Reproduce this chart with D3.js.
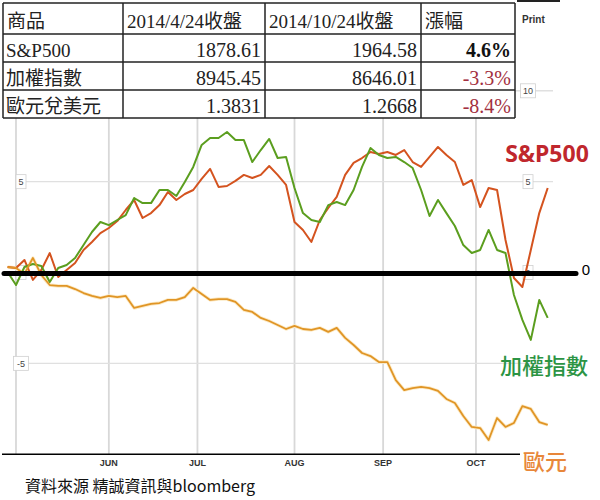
<!DOCTYPE html>
<html><head><meta charset="utf-8">
<script src="https://cdnjs.cloudflare.com/ajax/libs/d3/7.8.5/d3.min.js"></script>
<style>body{margin:0;background:#fff}svg{display:block}</style>
</head><body><div id="chart"></div>
<script>
// ---- data ----
const headers = ["商品", "2014/4/24收盤", "2014/10/24收盤", "漲幅"];
const products = ["S&P500", "加權指數", "歐元兌美元"];
const close0424 = ["1878.61", "8945.45", "1.3831"];
const close1024 = ["1964.58", "8646.01", "1.2668"];
const changes = ["4.6%", "-3.3%", "-8.4%"];
const monthLabels = ["", "JUN", "JUL", "AUG", "SEP", "OCT"];
const yTicksLeft = [5, 0, -5];
const yTicksRight = [10, 5, 0];
const yGrid = [10, 5, 0, -5];
// % change since start, sampled every second trading day (2014-04-29 .. 2014-10-24)
const spx = [0.30,0.25,0.69,-0.41,0.14,1.07,-0.25,0.14,0.52,1.24,1.68,2.17,2.45,2.83,3.44,3.99,3.00,3.27,3.71,4.43,
  3.99,4.32,4.54,5.15,5.70,4.71,4.76,5.04,5.37,5.20,5.37,5.86,5.37,4.82,2.78,2.34,1.68,2.89,3.55,4.16,
  5.37,6.03,6.30,6.63,6.52,6.63,6.47,6.74,6.08,5.81,6.36,6.91,6.47,6.08,4.82,5.09,3.60,4.65,4.54,1.79,
  -0.30,-0.80,1.24,3.27,4.65];
const twii = [0.03,-0.69,0.30,0.47,0.36,-0.52,0.25,0.41,0.80,1.51,2.23,2.78,2.61,2.89,3.16,4.10,3.82,3.82,4.54,4.54,
  4.21,4.98,5.81,7.02,7.40,7.40,7.73,7.29,7.29,6.08,6.74,7.35,6.30,6.36,4.65,3.27,2.89,2.78,3.71,3.88,
  3.71,4.54,5.81,6.85,6.47,6.30,6.36,6.08,5.75,4.54,3.11,3.99,3.27,2.56,1.51,1.07,1.24,2.34,1.24,1.07,
  -1.24,-2.61,-3.71,-1.51,-2.50];
const eur = [0.30,0.25,-0.08,0.80,-0.14,-0.69,-0.74,-0.74,-0.91,-1.13,-1.29,-1.40,-1.29,-1.35,-1.29,-1.95,-1.84,-1.73,-1.68,-1.51,
  -1.51,-1.35,-0.85,-1.18,-1.51,-1.46,-1.46,-1.62,-2.06,-2.17,-2.50,-2.67,-2.89,-3.11,-2.94,-3.11,-3.16,-3.05,-3.27,-3.05,
  -3.60,-3.99,-4.43,-4.60,-4.93,-4.93,-5.92,-6.47,-6.36,-6.30,-6.36,-6.52,-6.96,-7.18,-7.90,-8.50,-8.56,-9.22,-8.01,-8.50,
  -8.28,-7.35,-7.51,-8.23,-8.39];

// ---- trading-day axis ----
const allDays = d3.timeDay.range(new Date(2014, 3, 29), new Date(2014, 9, 25))
  .filter(d => d.getDay() !== 0 && d.getDay() !== 6);
const sampleIdx = allDays.map((d, i) => i).filter(i => i % 2 === 0);

const W = 600, H = 500;
const svg = d3.select("#chart").append("svg").attr("width", W).attr("height", H)
  .style("font-family", "Arial, 'Liberation Sans', sans-serif");
svg.append("rect").attr("width", W).attr("height", H).attr("fill", "#fff");

const x = d3.scaleLinear().domain([0, allDays.length - 1]).range([7.56, 547.7]);
const y = d3.scaleLinear().domain([-10, 10]).range([454.2, 90.8]);
const plotL = 16, plotR = 553;

// month gridlines
const monthStarts = [];
allDays.forEach((d, i) => {
  if (i > 0 && d.getMonth() !== allDays[i - 1].getMonth()) monthStarts.push(i);
});
svg.append("g").selectAll("line").data(monthStarts).join("line")
  .attr("x1", d => x(d)).attr("x2", d => x(d))
  .attr("y1", 60).attr("y2", y(-10))
  .attr("stroke", "#d8d8d8").attr("stroke-width", 1.8);
svg.append("g").selectAll("line").data(yGrid).join("line")
  .attr("x1", plotL).attr("x2", plotR)
  .attr("y1", d => y(d)).attr("y2", d => y(d))
  .attr("stroke", "#e0e0e0").attr("stroke-width", 1.4);

// y labels (boxed)
function yLabel(g, v, cx) {
  const t = String(v);
  const w = t.length * 5 + 5;
  g.append("rect").attr("x", cx - w / 2).attr("y", y(v) - 7).attr("width", w).attr("height", 14)
    .attr("fill", "#fff").attr("stroke", "#d0d0d0").attr("stroke-width", 0.8);
  g.append("text").attr("x", cx).attr("y", y(v) + 3.5).attr("text-anchor", "middle")
    .attr("font-size", 9).attr("fill", "#444").text(t);
}
const yl = svg.append("g");
yTicksLeft.forEach(v => yLabel(yl, v, 21));
yTicksRight.forEach(v => yLabel(yl, v, 528));

// lines
const line = d3.line().x(d => x(d.i)).y(d => y(d.v));
function series(vals) { return vals.map((v, k) => ({ i: sampleIdx[k], v })); }
svg.append("path").datum(series(eur)).attr("d", line).attr("fill", "none")
  .attr("stroke", "#fcebc8").attr("stroke-width", 3.5).attr("stroke-linejoin", "round");
svg.append("path").datum(series(spx)).attr("d", line).attr("fill", "none")
  .attr("stroke", "#d4531f").attr("stroke-width", 2).attr("stroke-linejoin", "round");
svg.append("path").datum(series(twii)).attr("d", line).attr("fill", "none")
  .attr("stroke", "#5b9e1f").attr("stroke-width", 2).attr("stroke-linejoin", "round");
svg.append("path").datum(series(eur)).attr("d", line).attr("fill", "none")
  .attr("stroke", "#e09526").attr("stroke-width", 1.8).attr("stroke-linejoin", "round");

// thick zero line
svg.append("line").attr("x1", 4).attr("x2", 576).attr("y1", y(0) + 1).attr("y2", y(0) + 1)
  .attr("stroke", "#000").attr("stroke-width", 5).attr("stroke-linecap", "round");
svg.append("text").attr("x", 586).attr("y", y(0) + 2).attr("text-anchor", "middle")
  .attr("font-size", 15).attr("fill", "#000").text("0");

// x axis
svg.append("line").attr("x1", 2).attr("x2", 520).attr("y1", y(-10)).attr("y2", y(-10))
  .attr("stroke", "#000").attr("stroke-width", 1.5);
svg.append("g").selectAll("text").data(monthStarts).join("text")
  .attr("x", d => x(d)).attr("y", 466).attr("text-anchor", "middle")
  .attr("font-size", 9).attr("font-weight", "bold").attr("fill", "#333")
  .text((d, i) => monthLabels[i]);

// series labels
svg.append("text").attr("x", 547).attr("y", 162).attr("text-anchor", "middle")
  .attr("font-size", 23).attr("font-weight", "bold").attr("fill", "#c0272d")
  .style("font-family", "'Noto Sans', Arial, sans-serif").text("S&P500");
svg.append("text").attr("x", 544).attr("y", 374).attr("text-anchor", "middle")
  .attr("font-size", 22).attr("font-weight", 500).attr("fill", "#2c9444")
  .style("font-family", "'Noto Sans CJK TC', sans-serif").text("加權指數");
svg.append("text").attr("x", 545).attr("y", 470).attr("text-anchor", "middle")
  .attr("font-size", 22).attr("font-weight", 500).attr("fill", "#e8873a")
  .style("font-family", "'Noto Sans CJK TC', sans-serif").text("歐元");

// source
svg.append("text").attr("x", 25).attr("y", 492).attr("font-size", 16).attr("fill", "#111")
  .style("font-family", "'Noto Sans CJK TC', sans-serif").text("資料來源 精誠資訊與bloomberg");

// top-right bits
svg.append("line").attr("x1", 517).attr("x2", 560).attr("y1", 1).attr("y2", 1)
  .attr("stroke", "#222").attr("stroke-width", 2);
svg.append("text").attr("x", 522).attr("y", 23).attr("font-size", 10).attr("font-weight", "bold")
  .attr("fill", "#333").text("Print");

// table
const colX = [3, 123, 265, 421, 515];
const rowY = [3, 34, 62, 90, 118];
const tg = svg.append("g").style("font-family", "'Liberation Serif', 'Noto Sans CJK TC', serif");
tg.append("rect").attr("x", colX[0]).attr("y", rowY[0]).attr("width", colX[4] - colX[0])
  .attr("height", rowY[4] - rowY[0]).attr("fill", "#fff");
tg.selectAll("line.v").data(colX).join("line").attr("class", "v")
  .attr("x1", d => d).attr("x2", d => d).attr("y1", rowY[0]).attr("y2", rowY[4])
  .attr("stroke", "#222").attr("stroke-width", 1.5);
tg.selectAll("line.h").data(rowY).join("line").attr("class", "h")
  .attr("x1", colX[0]).attr("x2", colX[4]).attr("y1", d => d).attr("y2", d => d)
  .attr("stroke", "#222").attr("stroke-width", 1.5);
headers.forEach((h, c) => {
  tg.append("text").attr("x", colX[c] + 4).attr("y", 28).attr("font-size", 19)
    .attr("fill", "#222").text(h);
});
const cols = [products, close0424, close1024, changes];
products.forEach((p, r) => {
  const base = rowY[r + 1] + 23;
  cols.forEach((col, c) => {
    const t = tg.append("text").attr("y", base).attr("font-size", c === 0 ? 19 : 20).text(col[r]);
    if (c === 0) t.attr("x", colX[0] + 3).attr("fill", "#222");
    else t.attr("x", colX[c + 1] - 4).attr("text-anchor", "end").attr("fill", "#222");
    if (c === 3) {
      if (r === 0) t.attr("font-weight", "bold").attr("fill", "#111");
      else t.attr("fill", "#a3303f");
    }
  });
});
</script></body></html>
